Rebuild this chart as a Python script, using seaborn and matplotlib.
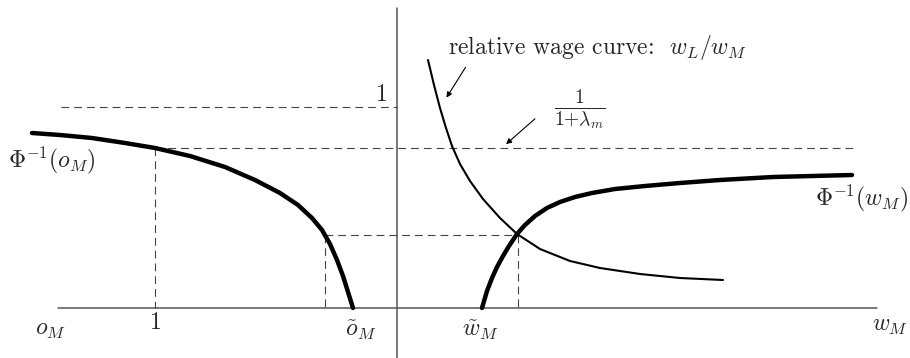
import numpy as np
import pandas as pd
import matplotlib
matplotlib.use("Agg")
import matplotlib.pyplot as plt
import seaborn as sns

sns.set_theme(style="white")
plt.rcParams['mathtext.fontset'] = 'cm'
plt.rcParams['font.family'] = ['cmr10', 'DejaVu Serif']

# curve points (pixel frame, y grows downward)
occ_x = [32, 60, 92, 125, 155, 190, 225, 255, 280, 298, 312, 322, 330, 337, 343, 348, 353]
occ_y = [133, 135, 138, 143, 148, 156, 167, 180, 193, 205, 218, 230, 244, 260, 276, 292, 308]

wage_x = [482, 487, 492, 497, 503, 509, 517, 525, 535, 547, 560, 575, 592, 615, 645, 680, 720, 773, 852]
wage_y = [308, 291, 278, 267, 256, 246, 234, 225, 216, 208, 202, 197, 193, 189, 186, 183, 180, 177, 175]

rel_x = [428, 434, 440, 446, 452, 460, 470, 483, 500, 517, 540, 570, 600, 640, 680, 723]
rel_y = [60, 85, 108, 128, 146, 164, 181, 199, 218, 234, 249, 261, 268, 274, 278, 280]

# guide lines: (x0, x1, y0, y1)
axis_h = (58, 877, 308, 308)
axis_v = (397, 397, 8, 358)
dashed = [
    (61, 397, 107, 107),
    (155, 853, 148, 148),
    (155, 155, 148, 308),
    (325, 518, 235, 235),
    (325, 325, 235, 308),
    (518, 518, 235, 308),
]

fig = plt.figure(figsize=(9.1, 3.58), dpi=100)
ax = fig.add_axes([0, 0, 1, 1])
ax.set_xlim(0, 910)
ax.set_ylim(358, 0)
ax.axis('off')

for x0, x1, y0, y1 in [axis_h, axis_v]:
    ax.plot([x0, x1], [y0, y1], color='#555555', lw=1.1)
for x0, x1, y0, y1 in dashed:
    ax.plot([x0, x1], [y0, y1], color='#444444', lw=0.8, dashes=(7, 4.5))

line_kw = dict(sort=False, estimator=None, color='black', ax=ax)
sns.lineplot(x=occ_x, y=occ_y, lw=3.2, **line_kw).lines[-1].set_solid_joinstyle('round')
sns.lineplot(x=wage_x, y=wage_y, lw=3.2, **line_kw).lines[-1].set_solid_joinstyle('round')
sns.lineplot(x=rel_x, y=rel_y, lw=1.5, **line_kw).lines[-1].set_solid_joinstyle('round')

fs = 17
ax.text(448, 47, r'relative wage curve:  $w_L/w_M$', fontsize=fs, va='center', ha='left')
ax.annotate('', xy=(445, 100), xytext=(467, 65),
            arrowprops=dict(arrowstyle='-|>', color='black', lw=0.8, mutation_scale=8))
ax.text(580, 109, r'$\frac{1}{1{+}\lambda_m}$', fontsize=20, va='center', ha='center')
ax.annotate('', xy=(504, 146), xytext=(537, 117),
            arrowprops=dict(arrowstyle='-|>', color='black', lw=0.8, mutation_scale=8))

ax.text(381, 95, r'$1$', fontsize=fs, va='center', ha='center')
ax.text(8, 160, r'$\Phi^{-1}(o_M)$', fontsize=fs, va='center', ha='left')
ax.text(908, 198, r'$\Phi^{-1}(w_M)$', fontsize=fs, va='center', ha='right')
ax.text(35, 330, r'$o_M$', fontsize=fs, va='center', ha='left')
ax.text(155, 323, r'$1$', fontsize=fs, va='center', ha='center')
ax.text(361, 330, r'$\tilde{o}_M$', fontsize=fs, va='center', ha='center')
ax.text(481, 330, r'$\tilde{w}_M$', fontsize=fs, va='center', ha='center')
ax.text(908, 326, r'$w_M$', fontsize=fs, va='center', ha='right')

fig.savefig('out.png', dpi=100)
